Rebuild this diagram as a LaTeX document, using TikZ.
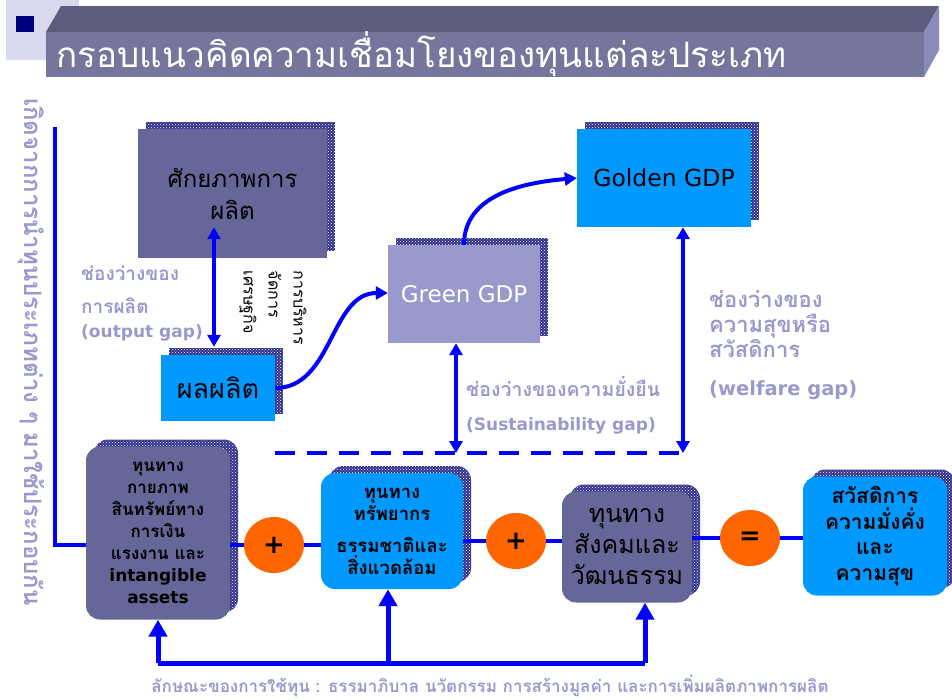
\documentclass[tikz,border=0pt]{standalone}
\usepackage{fontspec}
\setmainfont{DejaVu Sans}
\newfontfamily\thai[Script=Thai]{Loma}
\newfontfamily\lat{DejaVu Sans}
\usetikzlibrary{shapes.geometric,shadows,patterns,arrows.meta}
\definecolor{slate}{HTML}{666699}
\definecolor{sky}{HTML}{0099FF}
\definecolor{lilac}{HTML}{9999CC}
\definecolor{orng}{HTML}{FF6600}
\definecolor{wire}{HTML}{0000FF}
\definecolor{speckle}{HTML}{30308A}
\definecolor{bullet}{HTML}{000080}
\definecolor{titlefront}{HTML}{76769C}
\definecolor{titletop}{HTML}{5C5C7C}
\definecolor{titleside}{HTML}{8A8AB8}
\definecolor{lavlight}{HTML}{D8D8EE}

\begin{document}
\begin{tikzpicture}[x=1pt,y=1pt,
  every node/.style={inner sep=0pt},
  speckled/.style={general shadow={shadow xshift=8pt,shadow yshift=7pt,fill=speckle,
      postaction={pattern=crosshatch dots,pattern color=white}}},
  panel/.style={speckled,rectangle,align=center},
  pill/.style={speckled,rectangle,rounded corners=14pt,align=center,
      font=\thai\bfseries\fontsize{17}{22}\selectfont},
  sign/.style={ellipse,fill=orng,minimum width=60pt,minimum height=56pt,
      font=\lat\bfseries\fontsize{26}{26}\selectfont},
  gap/.style={anchor=west,align=left,text=lilac,font=\thai\bfseries\fontsize{19}{24}\selectfont},
  wirel/.style={draw=wire,line width=4pt},
  bigtip/.style={draw=wire,line width=5pt,-{Triangle[length=17pt,width=18pt]}},
  >={Triangle[length=12pt,width=13pt]}]
  \useasboundingbox (0,0) rectangle (952,-699);
  \fill[lavlight] (6,0) rectangle (79,-60);
  \fill[bullet] (16,-16) rectangle (34,-32);
  \fill[titletop] (61,-6) -- (939,-6) -- (924,-32) -- (46,-32) -- cycle;
  \fill[titleside] (924,-32) -- (939,-6) -- (939,-50) -- (924,-77) -- cycle;
  \fill[titlefront] (46,-32) rectangle (924,-77);
  \node[anchor=west,text=white,font=\thai\fontsize{35}{35}\selectfont] (title) at (56,-54)
    {กรอบแนวคิดความเชื่อมโยงของทุนแต่ละประเภท};
  \node[rotate=-90,text=lilac,font=\thai\bfseries\fontsize{24}{24}\selectfont] (sidenote) at (31,-352)
    {เกิดจากการนำทุนประเภทต่าง ๆ มาใช้ประกอบกัน};

  \node[panel,fill=slate,minimum width=189pt,minimum height=129pt,font=\thai\fontsize{24}{32}\selectfont] (potential) at (232.5,-193.5) {ศักยภาพการ\\ผลิต};
  \node[panel,fill=sky,minimum width=114pt,minimum height=66pt,font=\thai\fontsize{27}{27}\selectfont] (yield) at (218,-388) {ผลผลิต};
  \node[panel,fill=lilac,text=white,minimum width=152pt,minimum height=98pt,font=\lat\fontsize{23}{23}\selectfont] (green) at (464,-294) {Green GDP};
  \node[panel,fill=sky,minimum width=174pt,minimum height=98pt,font=\lat\fontsize{23.5}{23.5}\selectfont] (golden) at (664,-178) {Golden GDP};
  \node[rotate=-90,align=left,font=\thai\fontsize{16}{25}\selectfont] (mgmt) at (273,-308) {การบริหาร\\จัดการ\\เศรษฐกิจ};

  \node[pill,fill=slate,minimum width=144pt,minimum height=173pt] (physical) at (158,-533)
    {ทุนทาง\\กายภาพ\\สินทรัพย์ทาง\\การเงิน\\แรงงาน และ\\\lat\bfseries intangible\\\lat\bfseries assets};
  \node[sign] (plusa) at (274,-545) {+};
  \node[pill,fill=sky,minimum width=142pt,minimum height=116pt,font=\thai\bfseries\fontsize{18.5}{22}\selectfont] (nature) at (392,-531)
    {ทุนทาง\\ทรัพยากร\\[10pt]ธรรมชาติและ\\สิ่งแวดล้อม};
  \node[sign] (plusb) at (516,-541) {+};
  \node[pill,fill=slate,minimum width=130pt,minimum height=111pt,font=\thai\fontsize{25}{31}\selectfont] (social) at (627,-547)
    {ทุนทาง\\สังคมและ\\วัฒนธรรม};
  \node[sign] (equal) at (750,-538) {=};
  \node[pill,fill=sky,minimum width=144pt,minimum height=119pt,font=\thai\bfseries\fontsize{21}{25.5}\selectfont] (welfare) at (875,-536)
    {สวัสดิการ\\ความมั่งคั่ง\\และ\\ความสุข};

  \node[gap] (outgap) at (81,-303) {ช่องว่างของ\\[9pt]การผลิต\\\lat\bfseries\fontsize{17}{24}\selectfont (output gap)};
  \node[gap,font=\thai\bfseries\fontsize{19.5}{24}\selectfont] (susgap) at (466,-405) {ช่องว่างของความยั่งยืน\\[10pt]\lat\bfseries\fontsize{17}{24}\selectfont (Sustainability gap)};
  \node[gap,font=\thai\bfseries\fontsize{22}{25}\selectfont] (welgap) at (709,-345)
    {ช่องว่างของ\\ความสุขหรือ\\สวัสดิการ\\[13pt]\lat\bfseries\fontsize{19.5}{25}\selectfont (welfare gap)};
  \node[text=lilac,font=\thai\bfseries\fontsize{17}{17}\selectfont] (traits) at (490,-686)
    {ลักษณะของการใช้ทุน : ธรรมาภิบาล นวัตกรรม การสร้างมูลค่า และการเพิ่มผลิตภาพการผลิต};

  \coordinate (ltop) at (55,-127);
  \coordinate (dl) at (275,-453);
  \coordinate (bl) at (158,-663);
  \coordinate (br) at (645,-663);

  \draw[wirel] (ltop) |- (plusa -| physical.west);
  \draw[wirel] (physical.east |- plusa) -- (plusa) (plusa) -- (plusa -| nature.west);
  \draw[wirel] (nature.east |- plusb) -- (plusb) (plusb) -- (plusb -| social.west);
  \draw[wirel] (social.east |- equal) -- (equal) (equal) -- (equal -| welfare.west);
  \draw[wirel,<->] ([xshift=-18.5pt,yshift=31pt]potential.south) -- ([xshift=-4pt,yshift=8pt]yield.north);
  \draw[wirel,->] (yield.east) to[out=0,in=180] ([yshift=1pt]green.west);
  \draw[wirel,->] (green.north) to[out=90,in=185] (golden.west);
  \draw[wirel,dashed,dash pattern=on 20pt off 12pt] (dl) -- ([xshift=19pt]golden.south |- dl);
  \draw[wirel,<->] ([xshift=-8pt]green.south) -- ([xshift=-8pt]green.south |- dl);
  \draw[wirel,<->] ([xshift=19pt]golden.south) -- ([xshift=19pt]golden.south |- dl);
  \draw[draw=wire,line width=5pt] (bl) -- (br);
  \draw[bigtip] (bl) -- (physical.south);
  \draw[bigtip] ([xshift=-4pt]nature.south |- bl) -- ([xshift=-4pt]nature.south);
  \draw[bigtip] (br) -- (br |- social.south);
\end{tikzpicture}
\end{document}
